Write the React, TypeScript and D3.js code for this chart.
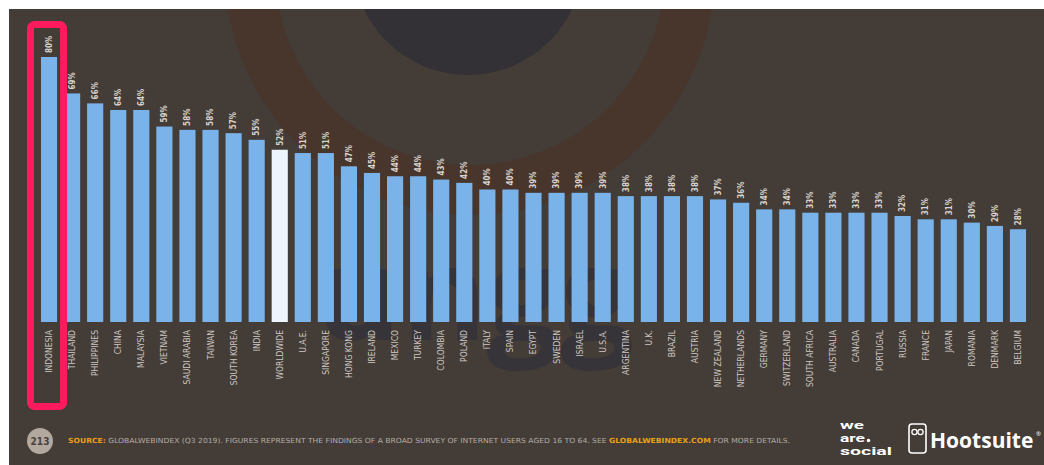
import React from "react";
import * as d3 from "d3";

const countries = [
  "INDONESIA", "THAILAND", "PHILIPPINES", "CHINA", "MALAYSIA", "VIETNAM", "SAUDI ARABIA", "TAIWAN",
  "SOUTH KOREA", "INDIA", "WORLDWIDE", "U.A.E.", "SINGAPORE", "HONG KONG", "IRELAND", "MEXICO",
  "TURKEY", "COLOMBIA", "POLAND", "ITALY", "SPAIN", "EGYPT", "SWEDEN", "ISRAEL", "U.S.A.",
  "ARGENTINA", "U.K.", "BRAZIL", "AUSTRIA", "NEW ZEALAND", "NETHERLANDS", "GERMANY", "SWITZERLAND",
  "SOUTH AFRICA", "AUSTRALIA", "CANADA", "PORTUGAL", "RUSSIA", "FRANCE", "JAPAN", "ROMANIA",
  "DENMARK", "BELGIUM",
];
const values = [
  80, 69, 66, 64, 64, 59, 58, 58, 57, 55, 52, 51, 51, 47, 45, 44, 44, 43, 42, 40, 40, 39, 39, 39, 39,
  38, 38, 38, 38, 37, 36, 34, 34, 33, 33, 33, 33, 32, 31, 31, 30, 29, 28,
];
const highlighted = "INDONESIA";
const average = "WORLDWIDE";

const W = 1044;
const H = 465;

export default function App() {
  const x = d3.scaleBand<string>().domain(countries).range([37.5, 1029.5]).paddingInner(0.3).paddingOuter(0.15);
  const y = d3.scaleLinear().domain([0, 80]).range([322, 57]);
  const hx = x(highlighted)!;
  const font = "'DejaVu Sans Condensed', 'DejaVu Sans', sans-serif";

  return (
    <svg width={W} height={H} style={{ position: "absolute", left: 0, top: 0 }}>
      <rect x={0} y={0} width={W} height={H} fill="#ffffff" />
      <rect x={9} y={9} width={W - 9} height={H - 9} fill="#433c37" />
      <clipPath id="panel">
        <rect x={9} y={9} width={W - 9} height={H - 9} />
      </clipPath>
      <g clipPath="url(#panel)">
        <circle cx={470} cy={-30} r={220} fill="none" stroke="#4a3429" strokeWidth={50} opacity={0.75} />
        <circle cx={468} cy={-40} r={115} fill="#333135" />
        <text x={475} y={340} fontFamily="'Open Sans', sans-serif" fontWeight={700} fontSize={130} fill="#35333a" textAnchor="middle" opacity={0.9}>
          ungg
        </text>
      </g>

      {countries.map((c, i) => {
        const bx = x(c)!;
        const top = y(values[i]);
        const cx = bx + x.bandwidth() / 2;
        return (
          <g key={c}>
            <rect x={bx} y={top} width={x.bandwidth()} height={y(0) - top} fill={c === average ? "#eef5fd" : "#79b3e9"} />
            <text
              transform={`translate(${cx},${top - 4}) rotate(-90)`}
              dy="0.35em"
              fontFamily={font}
              fontWeight={700}
              fontSize={8}
              fill="#d9d3cc"
            >
              {values[i]}%
            </text>
            <text
              transform={`translate(${cx},330) rotate(-90)`}
              dy="0.35em"
              textAnchor="end"
              fontFamily={font}
              fontSize={8.5}
              fill="#cfc9c3"
            >
              {c}
            </text>
          </g>
        );
      })}

      <rect x={hx - 10.5} y={24.5} width={x.bandwidth() + 17} height={382} rx={4} fill="none" stroke="#ff1a5e" strokeWidth={7} />

      <circle cx={40} cy={441} r={13} fill="#b3a89e" />
      <text x={40} y={444.5} textAnchor="middle" fontFamily={font} fontWeight={700} fontSize={10} fill="#4a423c">
        213
      </text>
      <text x={68} y={443} fontFamily={font} fontSize={7} fill="#b5aca4" textLength={722} lengthAdjust="spacingAndGlyphs">
        <tspan fill="#e8a01a" fontWeight={700}>SOURCE:</tspan>
        <tspan> GLOBALWEBINDEX (Q3 2019). FIGURES REPRESENT THE FINDINGS OF A BROAD SURVEY OF INTERNET USERS AGED 16 TO 64. SEE </tspan>
        <tspan fill="#e8a01a" fontWeight={700}>GLOBALWEBINDEX.COM</tspan>
        <tspan> FOR MORE DETAILS.</tspan>
      </text>

      <g fontFamily="Roboto, sans-serif" fontWeight={700} fill="#ffffff" fontSize={11}>
        <text x={840} y={429} textLength={24} lengthAdjust="spacingAndGlyphs">we</text>
        <text x={840} y={442} textLength={25} lengthAdjust="spacingAndGlyphs">are</text>
        <text x={840} y={455} textLength={52} lengthAdjust="spacingAndGlyphs">social</text>
      </g>
      <circle cx={868.5} cy={440.5} r={1.8} fill="#ffffff" />
      <rect x={909} y={424} width={17} height={29} rx={3} fill="none" stroke="#ffffff" strokeWidth={1.6} />
      <circle cx={914.5} cy={432} r={2.6} fill="none" stroke="#ffffff" strokeWidth={1.3} />
      <circle cx={920.5} cy={432} r={2.6} fill="none" stroke="#ffffff" strokeWidth={1.3} />
      <text x={930} y={448} fontFamily="'Open Sans', sans-serif" fontWeight={700} fontSize={21} fill="#ffffff">
        Hootsuite
      </text>
      <text x={1036} y={436} fontFamily="'Open Sans', sans-serif" fontSize={6} fill="#ffffff">®</text>
    </svg>
  );
}
